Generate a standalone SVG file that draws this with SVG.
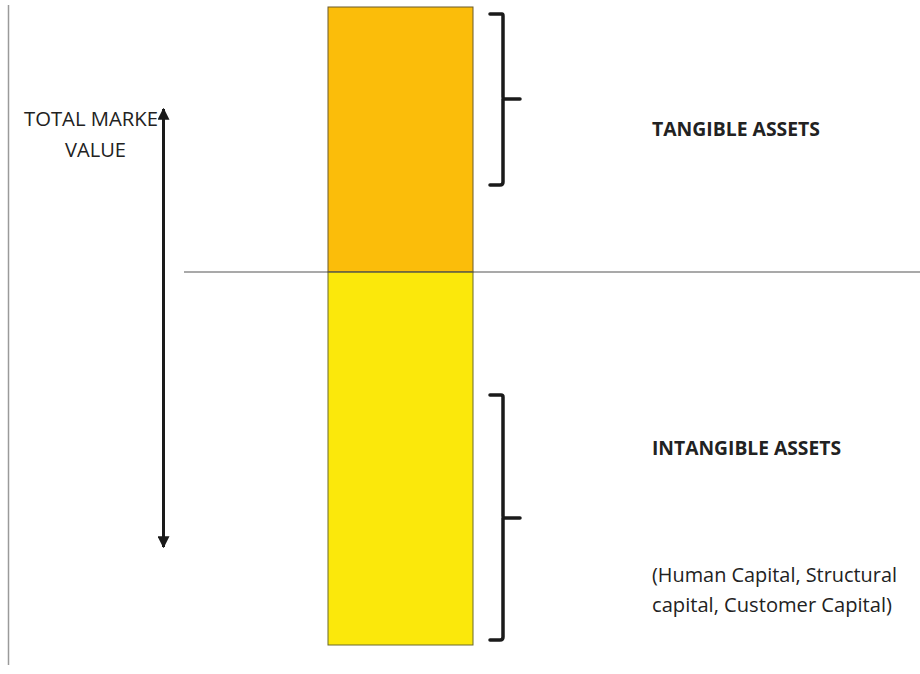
<svg xmlns="http://www.w3.org/2000/svg" width="920" height="674" viewBox="0 0 920 674">
  <style>
    .lbl { font-family: "Open Sans", "Liberation Sans", sans-serif; fill: #222222; }
    .bold { font-weight: bold; }
    .brace { fill: none; stroke: #1a1a1a; stroke-width: 3.5; stroke-linecap: round; stroke-linejoin: round; }
    .rule { stroke: #555; stroke-width: 1.2; }
  </style>
  <defs>
    <marker id="head" viewBox="0 0 10 10" refX="9" refY="5" markerWidth="4" markerHeight="4" orient="auto-start-reverse">
      <path d="M0,0 L10,5 L0,10 z" fill="#1a1a1a"/>
    </marker>
  </defs>
  <rect width="920" height="674" fill="#ffffff"/>

  <!-- left margin rule -->
  <line x1="8.5" y1="5" x2="8.5" y2="665" stroke="#9a9a9a" stroke-width="1.5"/>

  <!-- stacked bar -->
  <g id="tangible-bar">
    <rect x="328" y="7" width="145" height="265" fill="#fbbd0a" stroke="#6b5a2a" stroke-width="1"/>
  </g>
  <g id="intangible-bar">
    <rect x="328" y="272" width="145" height="373" fill="#fbe80b" stroke="#6b6a2a" stroke-width="1"/>
  </g>

  <!-- dividing line -->
  <line class="rule" x1="184" y1="272" x2="920" y2="272"/>

  <g id="connectors">
    <!-- total market value arrow -->
    <line x1="163.5" y1="109" x2="163.5" y2="547" stroke="#1a1a1a" stroke-width="3" marker-start="url(#head)" marker-end="url(#head)"/>
    <!-- braces -->
    <path class="brace" d="M490,14 L502,14 Q503,14 503,16 L503,97 Q503,99 505,99 L520,99 M503,99 L503,182 Q503,185 500,185 L490,185"/>
    <path class="brace" d="M490,395 L501,395 Q503,395 503,397 L503,516 Q503,518 505,518 L520,518 M503,518 L503,637 Q503,640 500,640 L490,640"/>
  </g>

  <g id="total-market-value">
    <text class="lbl" x="24" y="126" font-size="20" textLength="134" lengthAdjust="spacingAndGlyphs">TOTAL MARKE</text>
    <text class="lbl" x="65" y="157" font-size="20" textLength="61" lengthAdjust="spacingAndGlyphs">VALUE</text>
  </g>
  <g id="tangible-label">
    <text class="lbl bold" x="652" y="136" font-size="20" textLength="168" lengthAdjust="spacingAndGlyphs">TANGIBLE ASSETS</text>
  </g>
  <g id="intangible-label">
    <text class="lbl bold" x="652" y="455" font-size="20" textLength="189" lengthAdjust="spacingAndGlyphs">INTANGIBLE ASSETS</text>
    <text class="lbl" x="652" y="582" font-size="20" textLength="245" lengthAdjust="spacingAndGlyphs">(Human Capital, Structural</text>
    <text class="lbl" x="652" y="612" font-size="20" textLength="240" lengthAdjust="spacingAndGlyphs">capital, Customer Capital)</text>
  </g>
</svg>
